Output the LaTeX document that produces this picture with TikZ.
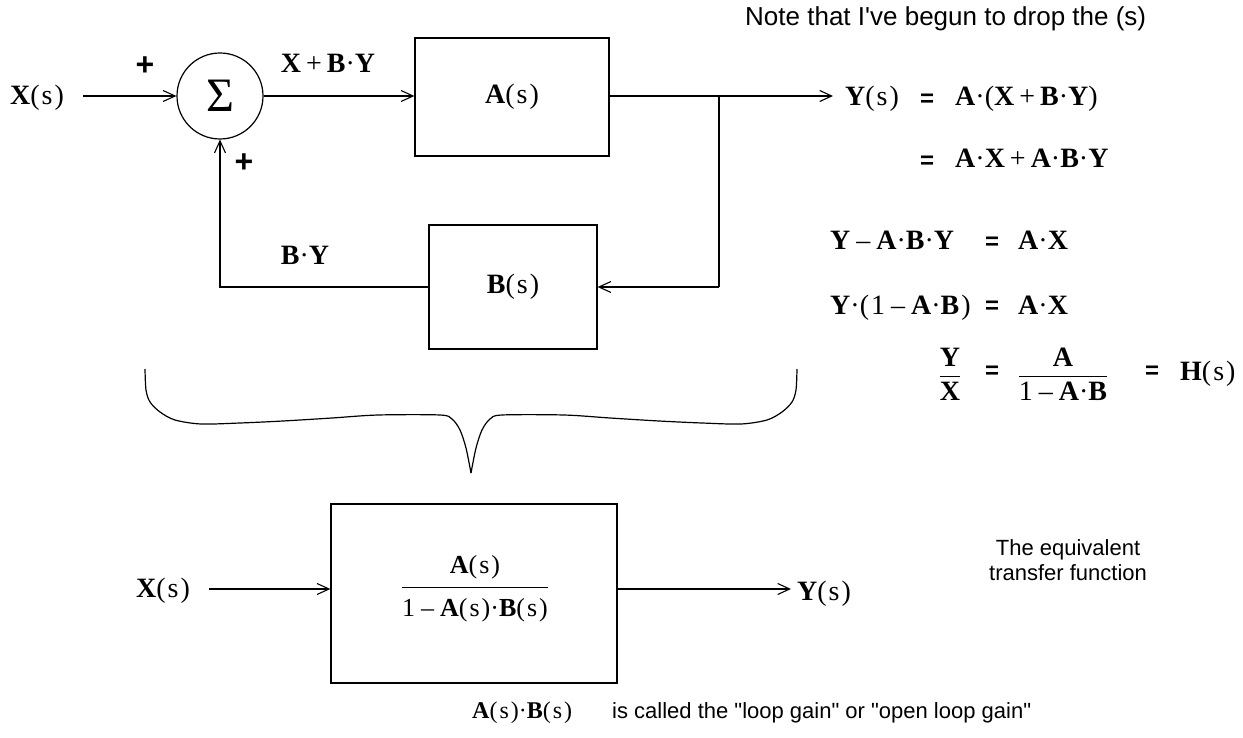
\documentclass[tikz,border=0pt]{standalone}
\usepackage{fontspec}
\usepackage{amsmath}
\setmainfont{Liberation Serif}
\newfontfamily\arial{Liberation Sans}
\usetikzlibrary{arrows.meta,calc}
\newcommand{\VA}{\textbf{A}}
\newcommand{\VB}{\textbf{B}}
\newcommand{\VX}{\textbf{X}}
\newcommand{\VY}{\textbf{Y}}
\newcommand{\VH}{\textbf{H}}
\newcommand{\ofs}{(\kern2pt s\kern2pt)}
\newcommand{\pd}{\textperiodcentered}
\newcommand{\mn}{\kern6pt–\kern6pt}
\newcommand{\pl}{\kern5pt+\kern5pt}
\tikzset{
  wire/.style={line width=1.3pt, draw=black},
  arr/.style={wire, -{Straight Barb[length=12pt,width=11pt,line width=1.1pt]}},
  lbl/.style={font=\fontsize{28}{30}\selectfont, inner sep=0pt},
  blk/.style={draw, line width=1.3pt, inner sep=0pt, font=\fontsize{28}{30}\selectfont},
  plus/.style={font=\arial\bfseries\fontsize{32}{32}\selectfont, inner sep=0pt},
  eq/.style={font=\arial\bfseries\fontsize{24}{24}\selectfont, inner sep=0pt},
  note/.style={font=\arial\fontsize{26}{30}\selectfont, inner sep=0pt},
  small/.style={font=\arial\fontsize{22}{25}\selectfont, inner sep=0pt},
  brace/.style={line width=1.2pt, draw=black}
}
\begin{document}
\begin{tikzpicture}[x=1pt,y=-1pt]
\path[use as bounding box] (0,0) rectangle (1243,738);

% top loop
\node[lbl] (x1) at (37,98) {\VX\ofs};
\node[draw, circle, line width=1.2pt, minimum size=86pt, inner sep=0pt] (sum) at (220,96) {\fontsize{48}{48}\selectfont Σ};
\node[blk, minimum width=194pt, minimum height=118pt] (A) at (512,97) {\VA\ofs};
\node[blk, minimum width=168pt, minimum height=124pt] (B) at (513,287) {\VB\ofs};
\node[lbl, anchor=base west] (yout) at (845,106) {\VY\ofs};
\coordinate (j) at (719,96);
\coordinate (jb) at (719,287);
\coordinate (c) at (220,287);

\draw[arr, shorten <=19pt] (x1.east |- sum.west) -- (sum.west);
\draw[arr] (sum.east) -- (sum.east -| A.west);
\draw[arr, shorten >=12pt] (A.east |- j) -- (j -| yout.west);
\draw[wire] (j) -- (jb);
\draw[arr] (jb) -- (B.east);
\draw[arr] (B.west) -- (c) -- (sum.south);

\node[lbl, anchor=base] (lxby) at (328,73) {\VX\pl\VB\pd\VY};
\node[plus] (p1) at (145,66) {+};
\node[plus] (p2) at (244,163) {+};
\node[lbl, anchor=base] (lby) at (305,265) {\VB\pd\VY};

% equations
\node[note, anchor=base west] (nt) at (745,26) {Note that I\char"27 ve begun to drop the (s)};
\node[eq] (e1) at (927,100) {=};
\node[lbl, anchor=base west] (r1) at (955,106) {\VA\pd(\VX\pl\VB\pd\VY)};
\node[eq] (e2) at (927,162) {=};
\node[lbl, anchor=base west] (r2) at (955,168) {\VA\pd\VX\pl\VA\pd\VB\pd\VY};
\node[lbl, anchor=base west] (l3) at (830,250) {\VY\mn\VA\pd\VB\pd\VY};
\node[eq] (e3) at (992,243) {=};
\node[lbl, anchor=base west] (r3) at (1018,250) {\VA\pd\VX};
\node[lbl, anchor=base west] (l4) at (830,315) {\VY\pd(\kern2pt 1\mn\VA\pd\VB\kern2pt)};
\node[eq] (e4) at (992,307) {=};
\node[lbl, anchor=base west] (r4) at (1018,315) {\VA\pd\VX};
\node[lbl] (f1) at (950,374) {$\dfrac{\text{\VY}}{\text{\VX}}$};
\node[eq] (e5) at (992,372) {=};
\node[lbl] (f2) at (1063,374) {$\dfrac{\text{\VA}}{\text{1\mn\VA\pd\VB}}$};
\node[eq] (e6) at (1152,372) {=};
\node[lbl, anchor=base west] (hs) at (1180,380) {\VH\ofs};
\node[small, align=center] (eqt) at (1068,560) {The equivalent\\transfer function};

% brace
\draw[brace] plot[smooth, tension=0.5] coordinates {(145,369) (146,390) (150,402) (160,412) (175,420) (201,424) (240,423) (283,421) (332,418) (378,415) (440,415) (452,419) (460,430) (466,448) (471,473)};
\draw[brace] plot[smooth, tension=0.5] coordinates {(471,473) (476,448) (482,430) (490,419) (502,415) (564,415) (610,418) (659,421) (702,423) (741,424) (767,420) (782,412) (792,402) (796,390) (797,369)};

% bottom
\node[lbl] (x2) at (163,591) {\VX\ofs};
\node[blk, minimum width=286pt, minimum height=179pt] (H) at (474,593.5) {};
\node[font=\fontsize{26}{28}\selectfont, inner sep=0pt] (Hf) at (475,589) {$\dfrac{\text{\VA\ofs}\rule[-10pt]{0pt}{10pt}}{\rule{0pt}{26pt}\text{1\mn\VA\ofs\pd\VB\ofs}}$};
\node[lbl, anchor=base west] (y2) at (797,600) {\VY\ofs};
\draw[arr, shorten <=19pt] (x2.east |- 0,589) -- (H.west |- 0,589);
\draw[arr, shorten >=6pt] (H.east |- 0,589) -- (y2.west |- 0,589);

\node[font=\fontsize{24}{26}\selectfont, inner sep=0pt, anchor=base west] (ab) at (472,718) {\VA\ofs\pd\VB\ofs};
\node[small, anchor=base west] (lg) at (612,718) {is called the "loop gain" or "open loop gain"};
\end{tikzpicture}
\end{document}
